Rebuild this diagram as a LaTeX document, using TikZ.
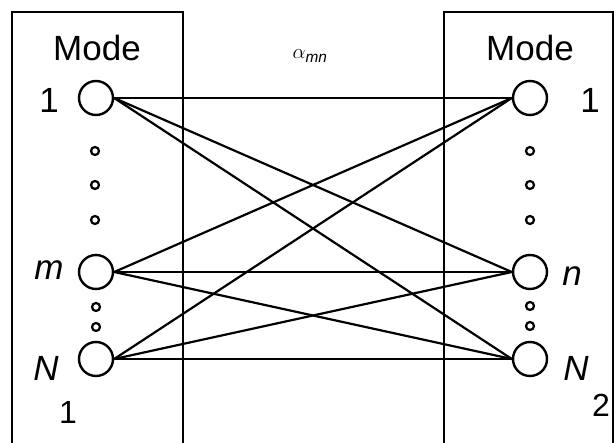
\documentclass[tikz,border=0pt]{standalone}
\usepackage{fontspec}
\setmainfont{Liberation Sans}
\begin{document}
\begin{tikzpicture}[x=1pt,y=-1pt,
  mode/.style={circle,draw,line width=2.4pt,minimum size=34pt,inner sep=0pt},
  dot/.style={circle,draw,line width=2.2pt,minimum size=8pt,inner sep=0pt},
  link/.style={line width=2.2pt},
  frame/.style={line width=1.8pt},
  lab/.style={inner sep=0pt,font=\fontsize{35}{35}\selectfont},
  sublab/.style={inner sep=0pt,font=\fontsize{32}{32}\selectfont}]
\useasboundingbox (0,0) rectangle (614,443);
% frames
\draw[frame] (12,443) -- (12,12) -- (183,12) -- (183,443);
\draw[frame] (444,443) -- (444,12) -- (613,12) -- (613,443);
% headings
\node[lab] (modeL) at (97,48) {Mode};
\node[lab] (modeR) at (530,48) {Mode};
\node[inner sep=0pt] (alpha) at (310,56) {\fontsize{22}{22}\selectfont$\alpha_{\mathit{mn}}$};
% left modes
\node[mode] (L1) at (96,98) {};
\node[mode] (Lm) at (96,272) {};
\node[mode] (LN) at (96,359) {};
\node[lab] (tL1) at (49,100) {1};
\node[lab] (tLm) at (49,270) {\itshape m};
\node[lab] (tLN) at (46,368) {\itshape N};
\node[sublab] (tLN1) at (68,412) {1};
% right modes
\node[mode] (R1) at (530,98) {};
\node[mode] (Rn) at (530,272) {};
\node[mode] (RN) at (530,359) {};
\node[lab] (tR1) at (590,100) {1};
\node[lab] (tRn) at (572,276) {\itshape n};
\node[lab] (tRN) at (576,368) {\itshape N};
\node[sublab] (tRN2) at (601,405) {2};
% dots
\foreach \y [count=\i] in {151,185,220} {
  \node[dot] (dl\i) at (95,\y) {};
  \node[dot] (dr\i) at (530,\y) {};
}
\node[dot] (dlb1) at (96,307) {};
\node[dot] (dlb2) at (96,327) {};
\node[dot] (drb1) at (530,306) {};
\node[dot] (drb2) at (530,326) {};
% links
\foreach \a in {L1,Lm,LN}
  \foreach \b in {R1,Rn,RN}
    \draw[link] (\a.east) -- (\b.west);
\end{tikzpicture}
\end{document}
